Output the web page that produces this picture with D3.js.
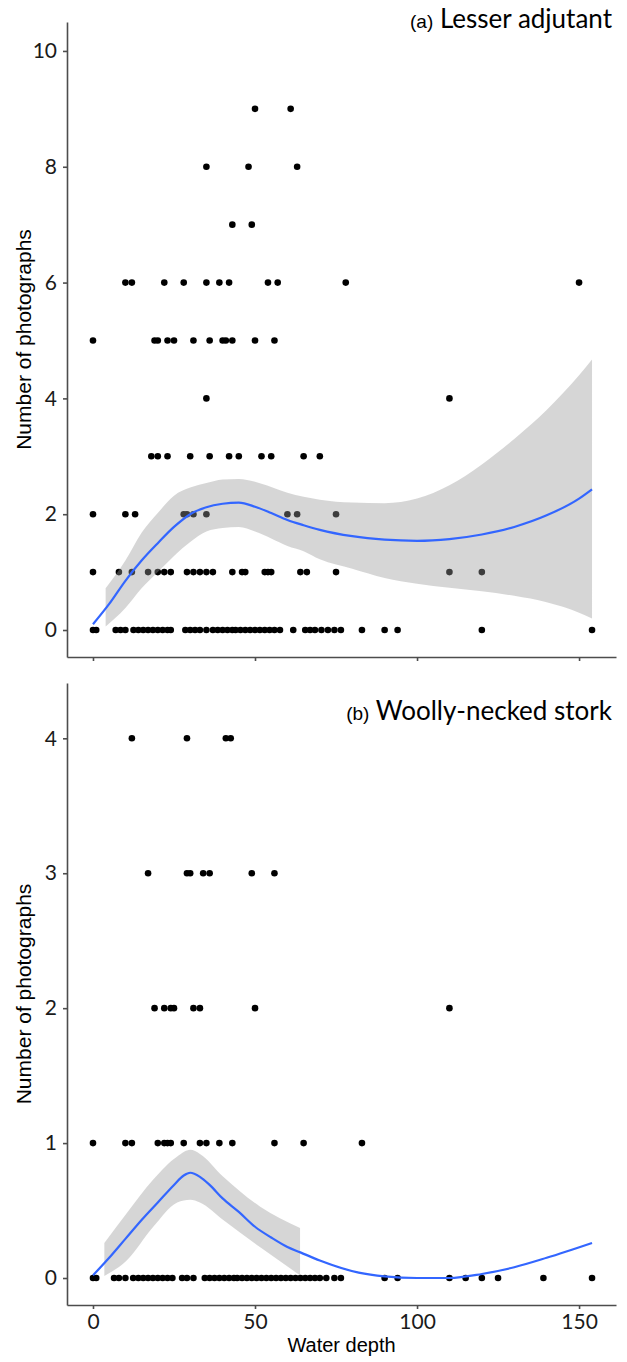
<!DOCTYPE html>
<html>
<head>
<meta charset="utf-8">
<script src="https://cdn.jsdelivr.net/npm/d3@7"></script>
<style>
  body { margin: 0; background: #fff; }
  .tick text { font-family: Lato, "Open Sans", sans-serif; font-size: 21px; fill: #1a1a1a; }
  .domain, .tick line { stroke: #4d4d4d; stroke-width: 1.6; }
</style>
</head>
<body>
<svg id="chart" width="627" height="1362"></svg>
<script>
// water depth ticks
const depthTicks = [0, 50, 100, 150];

// (a) Lesser adjutant: water depth of each photo point, grouped by number of photographs
const lesser0 = [0, 1, 7, 8.5, 10, 12.5, 14, 15.5, 17, 18.5, 20, 21.5, 23, 24, 28.5, 30, 31.5, 33, 35, 37, 38.5, 40, 41.5, 43, 44, 45.5, 47, 48.5, 50, 51.5, 53, 54.5, 56, 57.7, 61.8, 65.5, 67, 68.5, 70.5, 72.5, 74.5, 76.5, 83, 90, 94, 120, 154];
const lesser1 = [0, 8, 12, 17, 20, 22, 24, 29, 31, 33, 35, 37, 43, 46, 47, 53, 54, 55, 64, 66, 75, 110, 120];
const lesser2 = [0, 10, 13, 28, 29, 31, 35, 60, 63, 75];
const lesser3 = [18, 20, 23, 30, 36, 42, 45, 52, 55, 65, 70];
const lesser4 = [35, 110];
const lesser5 = [0, 19, 20, 23, 25, 31, 36, 40, 41, 43, 50, 56];
const lesser6 = [10, 12, 22, 28, 35, 39, 42, 54, 57, 78, 150];
const lesser7 = [43, 49];
const lesser8 = [35, 48, 63];
const lesser9 = [50, 61];
const lesserTicks = [0, 2, 4, 6, 8, 10];

// smoother for (a)
const lesserFitX = [0, 5, 10, 15, 20, 25, 30, 35, 40, 45, 50, 55, 60, 65, 70, 80, 90, 100, 110, 120, 130, 140, 150, 154];
const lesserFit = [0.1, 0.45, 0.85, 1.2, 1.5, 1.78, 2.0, 2.12, 2.18, 2.2, 2.13, 2.02, 1.9, 1.81, 1.73, 1.62, 1.56, 1.54, 1.57, 1.65, 1.78, 1.98, 2.27, 2.43];
const lesserBandX = [3.9, 10, 15, 20, 25, 30, 35, 40, 45, 50, 55, 60, 65, 70, 80, 90, 100, 110, 120, 130, 140, 150, 154];
const lesserUpper = [0.72, 1.2, 1.68, 2.02, 2.32, 2.46, 2.54, 2.6, 2.61, 2.56, 2.47, 2.37, 2.3, 2.25, 2.2, 2.19, 2.27, 2.5, 2.86, 3.3, 3.8, 4.4, 4.67];
const lesserLower = [0.06, 0.38, 0.72, 1.0, 1.28, 1.52, 1.7, 1.76, 1.78, 1.7, 1.58, 1.45, 1.36, 1.22, 1.06, 0.9, 0.8, 0.73, 0.67, 0.59, 0.48, 0.3, 0.2];

// (b) Woolly-necked stork
const stork0 = [0, 1, 6.5, 8, 10, 12.4, 14, 15.5, 17, 18.5, 20, 21.5, 23, 24.5, 27.5, 29, 31, 34.5, 36, 37.5, 39, 40.5, 42, 43.5, 44.5, 46, 47.5, 49, 50.5, 52, 53.5, 55, 56.5, 58, 59.5, 61, 62.5, 64, 65.5, 67, 68.5, 70, 72, 74.5, 76.5, 90, 94, 110, 115, 120, 125, 139, 154];
const stork1 = [0, 10, 12, 20, 22, 23, 24, 28, 33, 35, 39, 43, 56, 65, 83];
const stork2 = [19, 22, 24, 25, 31, 33, 50, 110];
const stork3 = [17, 29, 30, 34, 36, 49, 56];
const stork4 = [12, 29, 41, 42.5];
const storkTicks = [0, 1, 2, 3, 4];

const storkFitX = [0, 5, 10, 15, 20, 25, 28, 30, 33, 36, 40, 45, 50, 55, 60, 64, 70, 82, 90, 100, 110, 120, 130, 140, 154];
const storkFit = [0.02, 0.15, 0.29, 0.43, 0.56, 0.69, 0.76, 0.78, 0.75, 0.69, 0.59, 0.49, 0.38, 0.3, 0.23, 0.19, 0.13, 0.04, 0.012, 0, 0, 0.03, 0.08, 0.15, 0.26];
const storkBandX = [3.5, 10.4, 18.6, 26, 30, 33, 40.2, 51.5, 63.9];
const storkUpper = [0.26, 0.48, 0.73, 0.9, 0.95, 0.92, 0.75, 0.53, 0.37];
const storkLower = [0.015, 0.13, 0.38, 0.56, 0.58, 0.56, 0.43, 0.23, 0.02];

const svg = d3.select("#chart");
const left = 67, right = 616;
const x = d3.scaleLinear().domain([-8.02, 161.4]).range([left, right]);

function drawPanel(opt) {
  const y = d3.scaleLinear().domain(opt.ydom).range([opt.bottom, opt.top]);
  const g = svg.append("g");

  // points first, band drawn over them (so covered points look grey)
  const pts = [];
  opt.groups.forEach((arr, count) => arr.forEach(d => pts.push({ depth: d, n: count })));
  g.selectAll("circle").data(pts).join("circle")
    .attr("cx", d => x(d.depth))
    .attr("cy", d => y(d.n))
    .attr("r", 3.3)
    .attr("fill", "#000");

  const band = opt.bandX.map((d, i) => ({ x: d, lo: opt.lower[i], hi: opt.upper[i] }));
  g.append("path").datum(band)
    .attr("fill", "#999999").attr("fill-opacity", 0.4)
    .attr("d", d3.area().x(d => x(d.x)).y0(d => y(d.lo)).y1(d => y(d.hi)).curve(d3.curveMonotoneX));

  const fit = opt.fitX.map((d, i) => ({ x: d, v: opt.fit[i] }));
  g.append("path").datum(fit)
    .attr("fill", "none").attr("stroke", "#3366FF").attr("stroke-width", 2.2)
    .attr("d", d3.line().x(d => x(d.x)).y(d => y(d.v)).curve(d3.curveMonotoneX));

  g.append("g").attr("transform", `translate(${left},0)`)
    .call(d3.axisLeft(y).tickValues(opt.yticks).tickFormat(d3.format("d"))
      .tickSize(4).tickSizeOuter(0).tickPadding(6));

  const xa = d3.axisBottom(x).tickValues(depthTicks).tickSize(4).tickSizeOuter(0).tickPadding(5);
  if (!opt.xlabels) xa.tickFormat("");
  g.append("g").attr("transform", `translate(0,${opt.bottom})`).call(xa);

  g.append("text")
    .attr("transform", `translate(31,${(opt.top + opt.bottom) / 2}) rotate(-90)`)
    .attr("text-anchor", "middle")
    .style("font-family", "'Liberation Sans', Arial, sans-serif").style("font-size", "21px")
    .text("Number of photographs");

  const t = g.append("text").attr("x", 612).attr("y", opt.titleY).attr("text-anchor", "end")
    .style("font-family", "Lato, 'Open Sans', sans-serif").style("font-size", "26px");
  t.append("tspan").style("font-family", "'Liberation Sans', Arial, sans-serif").style("font-size", "19px").text(opt.tag);
  t.append("tspan").text(" " + opt.title);
}

drawPanel({
  top: 22, bottom: 657, ydom: [-0.466, 10.5], yticks: lesserTicks,
  groups: [lesser0, lesser1, lesser2, lesser3, lesser4, lesser5, lesser6, lesser7, lesser8, lesser9],
  fitX: lesserFitX, fit: lesserFit, bandX: lesserBandX, upper: lesserUpper, lower: lesserLower,
  xlabels: false, tag: "(a)", title: "Lesser adjutant", titleY: 28
});

drawPanel({
  top: 683, bottom: 1305, ydom: [-0.2, 4.41], yticks: storkTicks,
  groups: [stork0, stork1, stork2, stork3, stork4],
  fitX: storkFitX, fit: storkFit, bandX: storkBandX, upper: storkUpper, lower: storkLower,
  xlabels: true, tag: "(b)", title: "Woolly-necked stork", titleY: 720
});

svg.append("text")
  .attr("x", (left + right) / 2).attr("y", 1352).attr("text-anchor", "middle")
  .style("font-family", "'Liberation Sans', Arial, sans-serif").style("font-size", "20px")
  .text("Water depth");
</script>
</body>
</html>
